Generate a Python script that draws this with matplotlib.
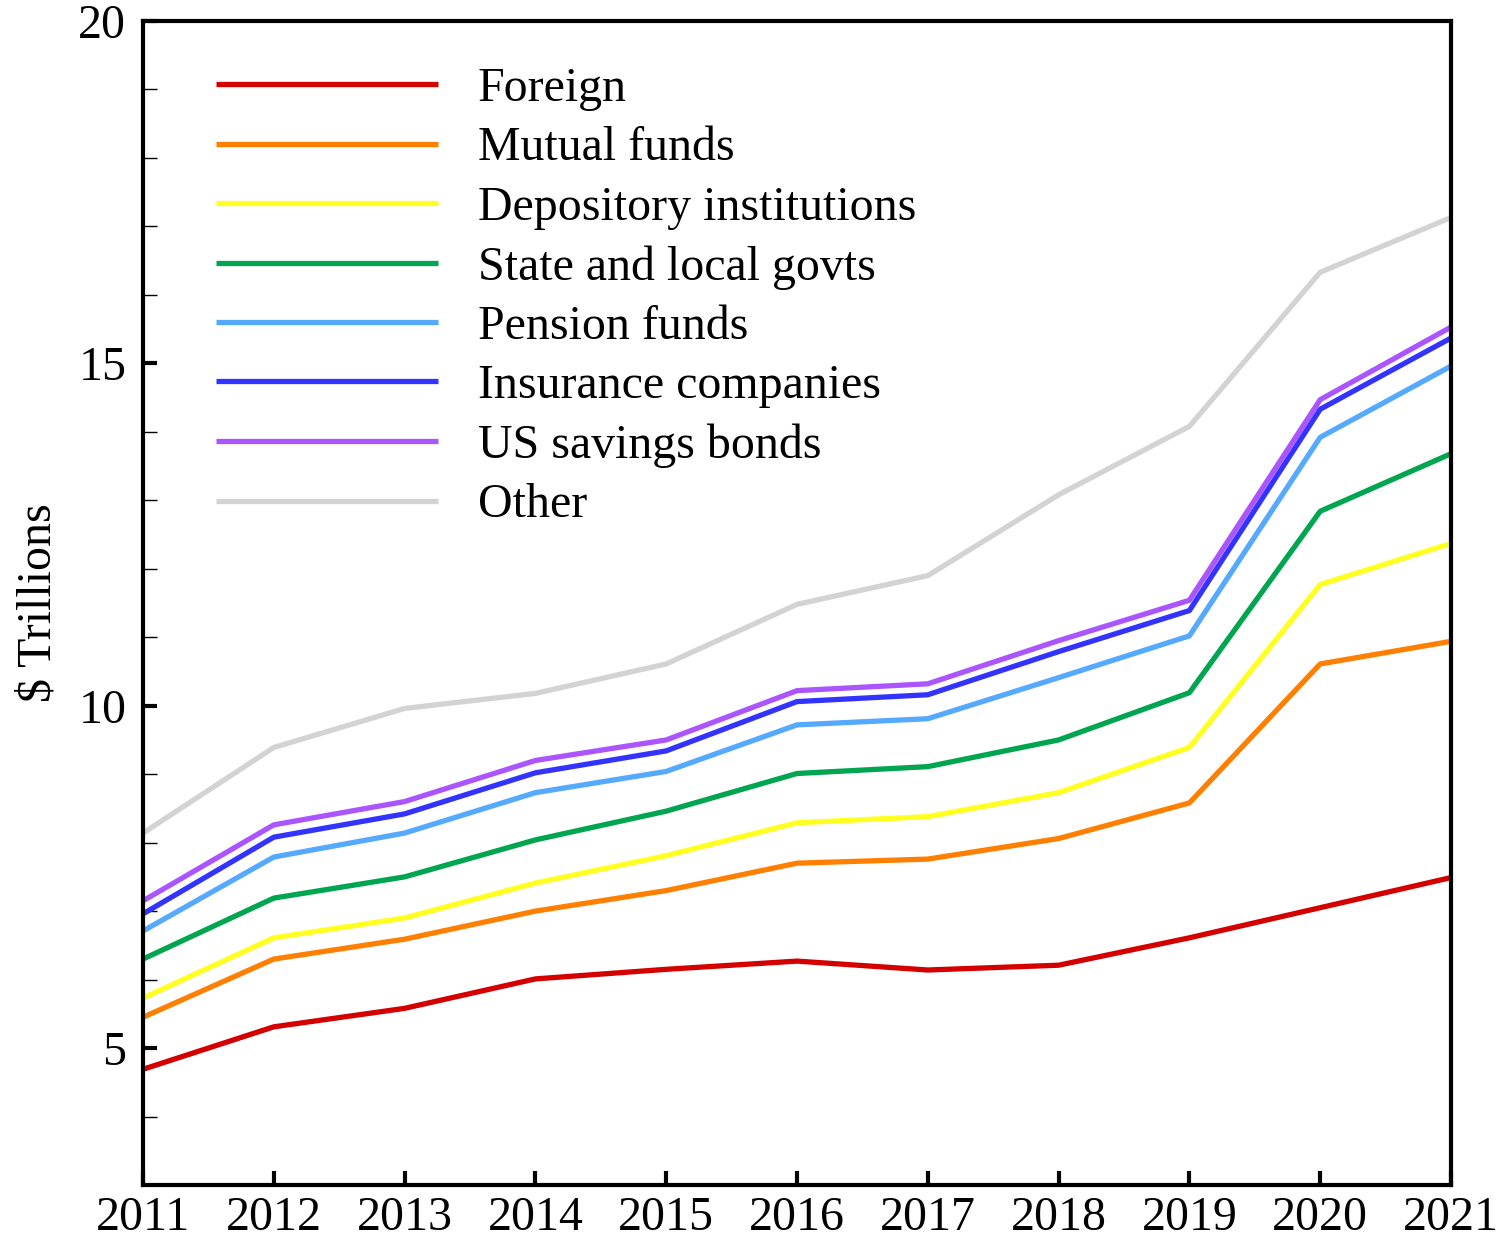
import matplotlib
matplotlib.use("Agg")
import matplotlib.pyplot as plt
from matplotlib.ticker import MultipleLocator

years = [2011, 2012, 2013, 2014, 2015, 2016, 2017, 2018, 2019, 2020, 2021]

foreign = [4.69, 5.31, 5.58, 6.01, 6.15, 6.27, 6.14, 6.21, 6.61, 7.05, 7.49]
mutual_funds = [5.45, 6.30, 6.59, 7.00, 7.30, 7.70, 7.76, 8.06, 8.58, 10.61, 10.94]
depository = [5.73, 6.61, 6.90, 7.41, 7.81, 8.29, 8.38, 8.73, 9.39, 11.77, 12.37]
state_local = [6.30, 7.19, 7.50, 8.04, 8.46, 9.01, 9.11, 9.50, 10.19, 12.84, 13.68]
pension = [6.71, 7.79, 8.14, 8.73, 9.04, 9.72, 9.81, 10.41, 11.02, 13.92, 14.96]
insurance = [6.96, 8.08, 8.42, 9.02, 9.34, 10.06, 10.16, 10.79, 11.39, 14.33, 15.37]
savings_bonds = [7.15, 8.26, 8.60, 9.20, 9.50, 10.22, 10.32, 10.95, 11.54, 14.47, 15.53]
other = [8.14, 9.39, 9.96, 10.18, 10.61, 11.48, 11.90, 13.08, 14.08, 16.33, 17.13]

labels = ["Foreign", "Mutual funds", "Depository institutions", "State and local govts",
          "Pension funds", "Insurance companies", "US savings bonds", "Other"]
series = [foreign, mutual_funds, depository, state_local, pension, insurance, savings_bonds, other]
colors = ["#d40000", "#ff8000", "#ffff22", "#00a550", "#55aaff", "#3333ff", "#aa55ff", "#d3d3d3"]

FS = 34.5
plt.rcParams['font.family'] = ['Liberation Serif', 'DejaVu Serif']
plt.rcParams['font.size'] = FS

fig = plt.figure(figsize=(14.99, 12.38), dpi=100)
ax = fig.add_axes([143/1499, 1 - 1185/1238, (1451-143)/1499, (1185-21)/1238])

for vals, lab, col in zip(series, labels, colors):
    ax.plot(years, vals, color=col, lw=3.8, label=lab, solid_capstyle='butt')

ax.set_xlim(2011, 2021)
ax.set_ylim(3, 20)
ax.set_xticks(years)
ax.set_xticklabels([str(y) for y in years])
ax.yaxis.set_major_locator(MultipleLocator(5))
ax.yaxis.set_minor_locator(MultipleLocator(1))
ax.tick_params(axis='both', which='major', direction='in', length=10, width=3, labelsize=FS)
ax.tick_params(axis='y', which='major', pad=12)
ax.tick_params(axis='x', which='major', pad=8)
ax.tick_params(axis='y', which='minor', direction='in', length=10, width=1)
for s in ax.spines.values():
    s.set_linewidth(3)
ax.set_ylabel("$ Trillions", fontsize=FS, labelpad=13)

leg = ax.legend(loc='upper left', bbox_to_anchor=(216/1499, 1 - 67/1238), bbox_transform=fig.transFigure,
                frameon=False, handlelength=4.63, handletextpad=0.83, labelspacing=0.32, fontsize=FS,
                borderaxespad=0, borderpad=0)
for line in leg.get_lines():
    line.set_linewidth(3.8)

fig.savefig("out.png", dpi=100)
